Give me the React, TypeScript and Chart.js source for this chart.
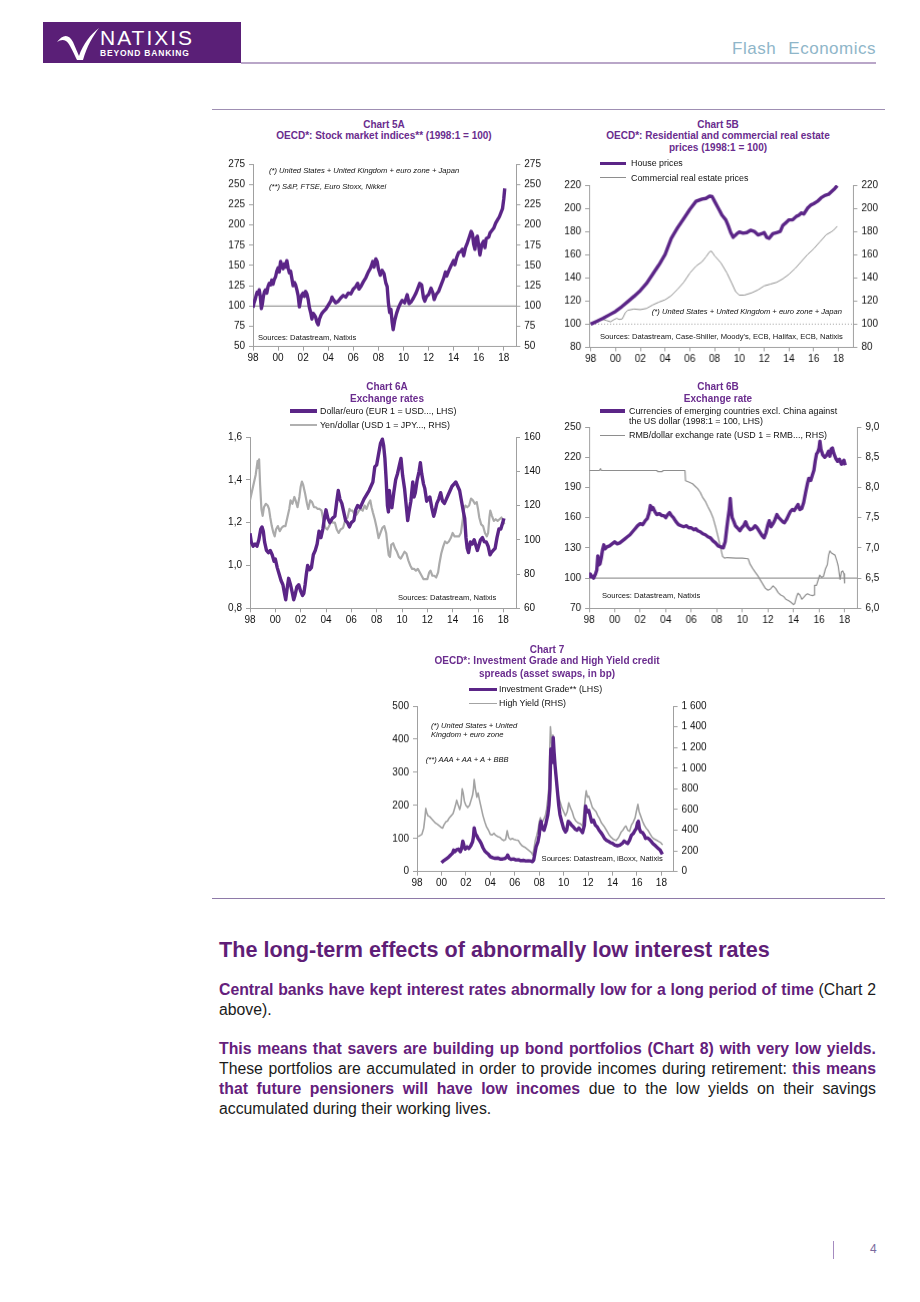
import React, { useEffect, useRef } from "react";
import { Chart, registerables } from "chart.js";
Chart.register(...registerables);

type Pt = [number, number];

const FONT = "'Liberation Sans', Arial, Helvetica, sans-serif";
const PURPLE = "#5b2587";
const TITLE = "#6a2c8e";
const AXIS = "#a0a0a0";
const TEXT_PURPLE = "#64207c";

// ---------- DATA ----------
const xTickYears = [1998, 2000, 2002, 2004, 2006, 2008, 2010, 2012, 2014, 2016, 2018];

// Chart 5A: OECD stock market indices (1998:1 = 100)
const stockIndex: Pt[] = [[1998.0,98],[1998.08,104],[1998.17,108],[1998.25,113],[1998.33,117],[1998.42,115],[1998.5,120],[1998.58,112],[1998.67,97],[1998.75,103],[1998.83,112],[1998.92,118],[1999.0,120],[1999.1,116],[1999.2,124],[1999.3,128],[1999.4,126],[1999.5,132],[1999.6,127],[1999.7,133],[1999.8,136],[1999.9,143],[2000.0,147],[2000.1,142],[2000.2,155],[2000.3,150],[2000.4,146],[2000.5,152],[2000.6,148],[2000.7,156],[2000.8,147],[2000.9,141],[2001.0,143],[2001.1,134],[2001.2,125],[2001.3,129],[2001.4,126],[2001.5,120],[2001.6,113],[2001.7,99],[2001.8,108],[2001.9,114],[2002.0,116],[2002.1,112],[2002.2,118],[2002.3,115],[2002.4,108],[2002.5,98],[2002.6,92],[2002.7,84],[2002.8,91],[2002.9,89],[2003.0,86],[2003.1,80],[2003.2,77],[2003.3,84],[2003.4,88],[2003.5,91],[2003.6,93],[2003.8,96],[2004.0,101],[2004.2,106],[2004.3,111],[2004.4,108],[2004.6,104],[2004.8,106],[2005.0,110],[2005.2,113],[2005.4,111],[2005.6,116],[2005.8,115],[2006.0,121],[2006.2,124],[2006.35,128],[2006.45,121],[2006.6,124],[2006.8,130],[2007.0,135],[2007.2,142],[2007.35,146],[2007.45,150],[2007.55,155],[2007.65,148],[2007.8,158],[2007.9,155],[2008.0,146],[2008.15,138],[2008.3,144],[2008.45,140],[2008.6,128],[2008.7,124],[2008.8,104],[2008.9,92],[2009.0,96],[2009.1,80],[2009.18,71],[2009.3,82],[2009.45,91],[2009.6,98],[2009.75,103],[2009.9,107],[2010.1,104],[2010.3,114],[2010.45,103],[2010.6,105],[2010.8,110],[2011.0,116],[2011.15,122],[2011.3,128],[2011.45,126],[2011.6,110],[2011.7,106],[2011.85,112],[2012.0,114],[2012.2,122],[2012.35,116],[2012.45,108],[2012.6,114],[2012.8,118],[2013.0,126],[2013.2,134],[2013.35,142],[2013.45,137],[2013.6,143],[2013.8,150],[2014.0,156],[2014.1,151],[2014.25,160],[2014.4,166],[2014.55,167],[2014.7,170],[2014.8,162],[2014.95,172],[2015.1,178],[2015.25,185],[2015.4,192],[2015.5,189],[2015.6,176],[2015.7,170],[2015.8,184],[2015.9,186],[2016.0,174],[2016.1,163],[2016.25,176],[2016.4,180],[2016.5,172],[2016.6,183],[2016.8,185],[2016.9,190],[2017.0,192],[2017.2,196],[2017.35,202],[2017.5,206],[2017.65,210],[2017.8,216],[2017.9,220],[2018.0,232],[2018.08,245]];
const refLine5A: Pt[] = [[1998, 100], [2019, 100]];
const ticks5A = [50, 75, 100, 125, 150, 175, 200, 225, 250, 275];

// Chart 5B: real estate prices (1998:1 = 100)
const housePrices: Pt[] = [[1998.0,100],[1998.5,102.5],[1999.0,105],[1999.5,108],[2000.0,111],[2000.5,115],[2001.0,119.5],[2001.5,124],[2002.0,129],[2002.5,135],[2003.0,143],[2003.5,151],[2004.0,160],[2004.5,174],[2005.0,183],[2005.5,191],[2006.0,199],[2006.5,206],[2007.0,208],[2007.3,208.5],[2007.6,210.5],[2007.8,210],[2008.0,206],[2008.3,200],[2008.6,194],[2008.9,190],[2009.1,185],[2009.3,179],[2009.5,175],[2009.8,178],[2010.0,179.5],[2010.3,178.5],[2010.6,179],[2010.9,181],[2011.2,180],[2011.5,177],[2011.8,178],[2012.0,179],[2012.2,175],[2012.4,174],[2012.7,178],[2013.0,179],[2013.3,180],[2013.5,185],[2013.8,188],[2014.0,190],[2014.3,190],[2014.6,193],[2014.8,194],[2015.0,196],[2015.2,195],[2015.5,200],[2015.8,203],[2016.0,204],[2016.3,206],[2016.6,209],[2016.9,211],[2017.2,212],[2017.5,215],[2017.7,217],[2017.9,219.5]];
const commercialPrices: Pt[] = [[1998.0,100],[1998.5,103],[1999.0,104],[1999.3,103],[1999.6,102],[1999.9,104],[2000.1,105],[2000.3,104],[2000.55,104.5],[2000.8,110],[2001.0,112],[2001.5,113],[2002.0,112.5],[2002.5,113.5],[2003.0,116.5],[2003.5,119],[2004.0,121],[2004.5,124.5],[2005.0,130],[2005.5,136],[2006.0,144],[2006.5,150],[2007.0,154],[2007.3,158],[2007.6,162.5],[2007.75,163],[2008.0,159],[2008.5,153],[2009.0,144],[2009.4,135],[2009.7,128],[2010.0,125],[2010.4,125],[2011.0,127],[2011.5,129.5],[2012.0,133],[2012.5,134.5],[2013.0,136],[2013.5,139],[2014.0,143],[2014.5,148],[2015.0,154],[2015.5,160],[2016.0,165],[2016.5,171],[2017.0,177],[2017.4,179.5],[2017.6,181],[2017.9,184.5]];
const refLine5B: Pt[] = [[1997.87, 100], [2019.2, 100]];
const ticks5B = [80, 100, 120, 140, 160, 180, 200, 220];

// Chart 6A: exchange rates
const dollarEuro: Pt[] = [[1998.0,1.15],[1998.1,1.11],[1998.25,1.09],[1998.4,1.1],[1998.55,1.09],[1998.7,1.12],[1998.85,1.17],[1998.95,1.18],[1999.05,1.16],[1999.15,1.11],[1999.3,1.07],[1999.45,1.06],[1999.6,1.07],[1999.75,1.05],[1999.9,1.02],[2000.0,1.03],[2000.15,0.99],[2000.3,0.96],[2000.45,0.93],[2000.6,0.91],[2000.72,0.87],[2000.82,0.84],[2000.95,0.9],[2001.05,0.94],[2001.2,0.91],[2001.35,0.87],[2001.45,0.84],[2001.55,0.86],[2001.7,0.9],[2001.85,0.91],[2002.0,0.88],[2002.15,0.86],[2002.25,0.87],[2002.35,0.91],[2002.45,0.96],[2002.55,1.0],[2002.7,0.98],[2002.85,0.99],[2003.0,1.05],[2003.15,1.07],[2003.3,1.1],[2003.45,1.16],[2003.6,1.13],[2003.75,1.17],[2003.9,1.23],[2004.0,1.26],[2004.15,1.22],[2004.3,1.2],[2004.5,1.22],[2004.7,1.23],[2004.85,1.3],[2004.97,1.35],[2005.1,1.31],[2005.25,1.29],[2005.4,1.25],[2005.55,1.21],[2005.7,1.2],[2005.85,1.18],[2006.0,1.2],[2006.2,1.21],[2006.35,1.26],[2006.5,1.28],[2006.7,1.27],[2006.85,1.29],[2007.0,1.31],[2007.2,1.33],[2007.4,1.35],[2007.55,1.37],[2007.7,1.39],[2007.85,1.46],[2008.0,1.47],[2008.15,1.52],[2008.3,1.57],[2008.45,1.59],[2008.55,1.56],[2008.65,1.5],[2008.75,1.4],[2008.85,1.28],[2008.93,1.25],[2009.0,1.35],[2009.1,1.3],[2009.2,1.27],[2009.35,1.34],[2009.5,1.4],[2009.65,1.43],[2009.8,1.47],[2009.92,1.5],[2010.05,1.42],[2010.2,1.36],[2010.35,1.27],[2010.45,1.21],[2010.55,1.25],[2010.7,1.3],[2010.85,1.39],[2010.95,1.32],[2011.05,1.34],[2011.2,1.4],[2011.35,1.44],[2011.45,1.48],[2011.55,1.43],[2011.7,1.38],[2011.8,1.36],[2011.95,1.3],[2012.05,1.31],[2012.2,1.32],[2012.35,1.27],[2012.5,1.23],[2012.6,1.25],[2012.75,1.29],[2012.9,1.31],[2013.05,1.34],[2013.2,1.3],[2013.35,1.29],[2013.5,1.31],[2013.65,1.33],[2013.8,1.35],[2013.95,1.37],[2014.1,1.38],[2014.25,1.39],[2014.4,1.37],[2014.55,1.35],[2014.7,1.3],[2014.85,1.25],[2014.95,1.22],[2015.05,1.13],[2015.15,1.08],[2015.25,1.06],[2015.4,1.11],[2015.55,1.1],[2015.7,1.12],[2015.85,1.09],[2015.95,1.07],[2016.05,1.09],[2016.2,1.12],[2016.35,1.13],[2016.5,1.11],[2016.65,1.11],[2016.8,1.09],[2016.95,1.05],[2017.05,1.06],[2017.2,1.07],[2017.35,1.08],[2017.5,1.13],[2017.65,1.17],[2017.8,1.17],[2017.95,1.2],[2018.05,1.22]];
const yenDollar: Pt[] = [[1998.0,123],[1998.15,128],[1998.3,133],[1998.45,138],[1998.6,146],[1998.65,142],[1998.72,147],[1998.8,132],[1998.9,118],[1999.0,114],[1999.1,119],[1999.25,121],[1999.4,120],[1999.5,118],[1999.6,113],[1999.72,108],[1999.85,104],[1999.95,102],[2000.05,106],[2000.2,108],[2000.35,105],[2000.5,107],[2000.65,108],[2000.8,108],[2000.95,113],[2001.1,118],[2001.2,123],[2001.35,121],[2001.5,125],[2001.6,123],[2001.75,119],[2001.9,125],[2002.0,131],[2002.1,134],[2002.2,132],[2002.35,127],[2002.5,121],[2002.6,118],[2002.75,123],[2002.9,122],[2003.05,119],[2003.2,119],[2003.35,118],[2003.5,118],[2003.65,117],[2003.8,111],[2003.95,107],[2004.1,106],[2004.25,108],[2004.4,111],[2004.55,110],[2004.7,110],[2004.85,106],[2005.0,104],[2005.15,106],[2005.35,107],[2005.5,111],[2005.7,113],[2005.85,118],[2005.95,117],[2006.1,117],[2006.3,114],[2006.45,115],[2006.6,117],[2006.75,118],[2006.9,117],[2007.05,120],[2007.2,118],[2007.35,121],[2007.5,123],[2007.6,119],[2007.7,116],[2007.85,112],[2008.0,107],[2008.15,101],[2008.3,104],[2008.45,107],[2008.6,108],[2008.75,104],[2008.85,97],[2008.95,91],[2009.05,90],[2009.15,97],[2009.3,98],[2009.45,95],[2009.6,93],[2009.75,90],[2009.9,89],[2010.05,91],[2010.2,93],[2010.35,92],[2010.5,88],[2010.65,85],[2010.8,83],[2010.95,83],[2011.1,82],[2011.25,83],[2011.4,81],[2011.55,79],[2011.7,77],[2011.85,77],[2012.0,77],[2012.15,81],[2012.25,82],[2012.4,79],[2012.55,79],[2012.7,78],[2012.85,81],[2012.95,86],[2013.1,92],[2013.25,96],[2013.4,99],[2013.55,98],[2013.7,99],[2013.85,101],[2014.0,104],[2014.15,102],[2014.3,102],[2014.5,102],[2014.65,104],[2014.8,112],[2014.9,118],[2015.0,120],[2015.15,119],[2015.3,120],[2015.45,124],[2015.6,123],[2015.75,121],[2015.9,122],[2016.0,118],[2016.1,113],[2016.25,109],[2016.4,108],[2016.55,104],[2016.7,102],[2016.8,104],[2016.9,113],[2016.97,117],[2017.1,114],[2017.25,111],[2017.4,112],[2017.55,111],[2017.7,112],[2017.85,113],[2018.0,111],[2018.08,109]];
const ticks6AL = [0.8, 1.0, 1.2, 1.4, 1.6];
const ticks6AR = [60, 80, 100, 120, 140, 160];

// Chart 6B: emerging currencies and RMB
const emCurrencies: Pt[] = [[1998.0,100],[1998.1,104],[1998.2,102],[1998.35,100],[1998.5,104],[1998.6,108],[1998.68,122],[1998.75,113],[1998.85,114],[1998.95,120],[1999.05,128],[1999.15,133],[1999.25,129],[1999.4,131],[1999.6,132],[1999.8,134],[2000.0,136],[2000.2,134],[2000.4,135],[2000.6,137],[2000.8,139],[2001.0,141],[2001.2,143],[2001.4,146],[2001.6,149],[2001.8,152],[2002.0,154],[2002.2,153],[2002.4,157],[2002.55,159],[2002.7,165],[2002.8,172],[2002.9,168],[2003.0,170],[2003.15,166],[2003.3,163],[2003.5,164],[2003.7,162],[2003.85,162],[2004.0,160],[2004.15,163],[2004.3,165],[2004.45,162],[2004.6,160],[2004.8,156],[2005.0,153],[2005.2,152],[2005.4,151],[2005.6,152],[2005.8,150],[2006.0,150],[2006.2,148],[2006.35,149],[2006.5,147],[2006.7,146],[2006.9,144],[2007.1,143],[2007.3,141],[2007.5,140],[2007.7,137],[2007.9,135],[2008.1,132],[2008.3,131],[2008.5,130],[2008.65,136],[2008.78,150],[2008.88,160],[2008.97,168],[2009.05,179],[2009.12,168],[2009.2,160],[2009.3,157],[2009.45,152],[2009.6,150],[2009.8,147],[2009.95,150],[2010.1,152],[2010.25,156],[2010.4,151],[2010.6,148],[2010.8,149],[2011.0,152],[2011.15,150],[2011.35,146],[2011.55,142],[2011.7,140],[2011.85,145],[2012.0,153],[2012.1,157],[2012.25,151],[2012.4,154],[2012.55,158],[2012.7,163],[2012.85,160],[2013.0,158],[2013.15,156],[2013.3,155],[2013.45,158],[2013.6,162],[2013.75,166],[2013.9,168],[2014.05,167],[2014.2,170],[2014.35,173],[2014.5,168],[2014.65,169],[2014.8,175],[2014.95,185],[2015.1,194],[2015.2,199],[2015.35,197],[2015.5,203],[2015.6,207],[2015.7,216],[2015.8,223],[2015.9,225],[2016.0,229],[2016.07,236],[2016.15,228],[2016.3,222],[2016.45,220],[2016.6,222],[2016.75,226],[2016.85,221],[2016.95,228],[2017.05,229],[2017.15,224],[2017.3,219],[2017.45,216],[2017.6,218],[2017.75,213],[2017.85,215],[2017.95,217],[2018.05,212]];
const rmbDollar: Pt[] = [[1998.0,8.28],[1998.8,8.28],[1998.9,8.31],[1998.95,8.28],[2003.3,8.28],[2003.4,8.26],[2003.7,8.26],[2003.8,8.28],[2005.5,8.28],[2005.55,8.11],[2005.8,8.09],[2006.1,8.06],[2006.3,8.02],[2006.5,7.98],[2006.7,7.92],[2006.9,7.83],[2007.1,7.77],[2007.3,7.68],[2007.5,7.6],[2007.7,7.5],[2007.9,7.35],[2008.1,7.18],[2008.3,7.0],[2008.45,6.86],[2008.6,6.83],[2008.8,6.84],[2009.5,6.83],[2010.0,6.83],[2010.45,6.82],[2010.6,6.73],[2010.8,6.66],[2011.0,6.6],[2011.2,6.54],[2011.4,6.47],[2011.6,6.4],[2011.8,6.33],[2012.0,6.3],[2012.2,6.32],[2012.4,6.37],[2012.6,6.33],[2012.8,6.26],[2013.0,6.22],[2013.2,6.2],[2013.4,6.15],[2013.6,6.13],[2013.8,6.1],[2014.0,6.06],[2014.1,6.08],[2014.25,6.2],[2014.35,6.25],[2014.5,6.22],[2014.65,6.15],[2014.8,6.18],[2014.95,6.22],[2015.1,6.24],[2015.3,6.22],[2015.5,6.21],[2015.6,6.22],[2015.65,6.38],[2015.8,6.38],[2015.95,6.48],[2016.05,6.55],[2016.2,6.51],[2016.35,6.53],[2016.5,6.65],[2016.65,6.72],[2016.75,6.88],[2016.85,6.95],[2016.95,6.92],[2017.1,6.9],[2017.25,6.88],[2017.4,6.78],[2017.5,6.7],[2017.6,6.55],[2017.65,6.48],[2017.75,6.6],[2017.85,6.62],[2017.95,6.57],[2018.0,6.42]];
const refLine6B: Pt[] = [[1998, 100], [2019, 100]];
const ticks6BL = [70, 100, 130, 160, 190, 220, 250];
const ticks6BR = [6.0, 6.5, 7.0, 7.5, 8.0, 8.5, 9.0];

// Chart 7: credit spreads (bp)
const investmentGrade: Pt[] = [[2000.0,27],[2000.15,32],[2000.3,36],[2000.45,40],[2000.6,44],[2000.75,50],[2000.9,55],[2001.0,65],[2001.1,60],[2001.25,66],[2001.4,68],[2001.55,60],[2001.65,70],[2001.75,92],[2001.85,78],[2001.95,68],[2002.1,75],[2002.25,70],[2002.4,78],[2002.55,90],[2002.62,105],[2002.68,132],[2002.78,115],[2002.9,108],[2003.0,100],[2003.1,95],[2003.25,85],[2003.4,72],[2003.55,62],[2003.7,57],[2003.85,52],[2004.0,45],[2004.2,42],[2004.4,40],[2004.6,41],[2004.8,38],[2005.0,38],[2005.2,40],[2005.35,44],[2005.42,50],[2005.55,40],[2005.7,37],[2005.9,38],[2006.1,35],[2006.3,36],[2006.5,33],[2006.7,34],[2006.9,32],[2007.1,33],[2007.3,32],[2007.45,30],[2007.55,35],[2007.65,55],[2007.75,75],[2007.9,90],[2008.0,110],[2008.08,140],[2008.15,152],[2008.25,130],[2008.4,125],[2008.55,145],[2008.7,170],[2008.8,200],[2008.88,250],[2008.95,370],[2009.02,345],[2009.08,330],[2009.15,405],[2009.22,360],[2009.3,320],[2009.4,280],[2009.5,240],[2009.6,200],[2009.7,172],[2009.85,150],[2010.0,130],[2010.15,120],[2010.25,125],[2010.38,152],[2010.5,148],[2010.65,140],[2010.8,135],[2010.95,128],[2011.1,125],[2011.25,132],[2011.4,125],[2011.55,118],[2011.7,140],[2011.8,198],[2011.9,180],[2012.05,185],[2012.15,172],[2012.3,150],[2012.45,155],[2012.6,140],[2012.75,135],[2012.9,125],[2013.05,118],[2013.2,110],[2013.35,100],[2013.5,95],[2013.65,92],[2013.8,88],[2014.0,85],[2014.2,80],[2014.4,78],[2014.6,80],[2014.8,85],[2014.95,92],[2015.1,88],[2015.25,85],[2015.4,95],[2015.55,110],[2015.7,115],[2015.85,125],[2015.95,130],[2016.05,148],[2016.12,152],[2016.2,130],[2016.3,120],[2016.45,118],[2016.6,110],[2016.7,100],[2016.85,102],[2017.0,98],[2017.15,92],[2017.3,85],[2017.45,80],[2017.6,75],[2017.75,70],[2017.9,65],[2018.0,58],[2018.08,52]];
const highYield: Pt[] = [[1998.0,340],[1998.2,345],[1998.4,360],[1998.55,420],[1998.65,520],[1998.72,610],[1998.8,570],[1998.9,540],[1999.05,530],[1999.2,510],[1999.35,490],[1999.5,470],[1999.65,460],[1999.8,445],[1999.95,430],[2000.1,420],[2000.2,450],[2000.35,480],[2000.5,490],[2000.65,520],[2000.8,540],[2000.95,560],[2001.05,600],[2001.15,640],[2001.25,690],[2001.35,650],[2001.5,600],[2001.6,650],[2001.7,800],[2001.78,760],[2001.88,680],[2002.0,640],[2002.15,620],[2002.3,640],[2002.45,700],[2002.55,740],[2002.62,800],[2002.68,890],[2002.78,800],[2002.9,720],[2003.0,760],[2003.1,700],[2003.25,620],[2003.4,540],[2003.55,480],[2003.7,430],[2003.85,400],[2004.0,360],[2004.15,355],[2004.3,370],[2004.45,350],[2004.6,340],[2004.8,330],[2004.95,310],[2005.1,300],[2005.25,310],[2005.38,395],[2005.5,330],[2005.65,310],[2005.8,320],[2005.95,310],[2006.1,305],[2006.3,300],[2006.45,270],[2006.6,250],[2006.75,240],[2006.9,230],[2007.05,215],[2007.2,200],[2007.35,185],[2007.48,160],[2007.58,230],[2007.68,300],[2007.8,350],[2007.9,400],[2008.0,480],[2008.1,520],[2008.2,470],[2008.35,500],[2008.5,540],[2008.6,600],[2008.7,700],[2008.78,800],[2008.85,1100],[2008.92,1400],[2008.98,1300],[2009.05,1200],[2009.12,1320],[2009.2,1150],[2009.3,1000],[2009.42,850],[2009.55,740],[2009.7,680],[2009.85,620],[2010.0,580],[2010.15,540],[2010.3,580],[2010.42,665],[2010.55,620],[2010.7,580],[2010.85,520],[2011.0,490],[2011.2,470],[2011.4,460],[2011.55,440],[2011.68,600],[2011.78,720],[2011.85,780],[2011.95,720],[2012.05,730],[2012.2,680],[2012.35,620],[2012.5,600],[2012.65,580],[2012.8,540],[2012.95,510],[2013.1,470],[2013.3,440],[2013.5,400],[2013.7,360],[2013.9,330],[2014.1,310],[2014.3,300],[2014.5,330],[2014.7,380],[2014.85,400],[2015.0,430],[2015.1,440],[2015.25,400],[2015.4,390],[2015.55,450],[2015.7,480],[2015.85,520],[2015.95,580],[2016.08,650],[2016.18,580],[2016.3,540],[2016.45,490],[2016.6,450],[2016.75,420],[2016.9,400],[2017.05,370],[2017.2,340],[2017.35,320],[2017.5,310],[2017.65,300],[2017.8,290],[2017.95,280],[2018.05,265],[2018.12,260]];
const ticks7L = [0, 100, 200, 300, 400, 500];
const ticks7R = [0, 200, 400, 600, 800, 1000, 1200, 1400, 1600];

// ---------- CHART COMPONENT ----------
type Series = { data: Pt[]; color: string; width: number; axis: "yL" | "yR"; dash?: number[] };
type AxisSpec = { ticks: number[]; fmt: (v: number) => string };
type Spec = {
  left: number; top: number; right: number; bottom: number;
  xMin: number; xMax: number; yL: AxisSpec; yR: AxisSpec; series: Series[];
};

const PAD_T = 8;
const AX_W = 40;
const X_H = 24;

const comma1 = (v: number) => v.toFixed(1).replace(".", ",");
const plain = (v: number) => String(v);
const spaced = (v: number) =>
  v >= 1000 ? `${Math.floor(v / 1000)} ${String(v % 1000).padStart(3, "0")}` : String(v);

function yAxis(a: AxisSpec, position: "left" | "right") {
  return {
    type: "linear" as const,
    position,
    min: a.ticks[0],
    max: a.ticks[a.ticks.length - 1],
    afterBuildTicks: (s: any) => { s.ticks = a.ticks.map((v) => ({ value: v })); },
    afterFit: (s: any) => { s.width = AX_W; },
    ticks: { font: { family: FONT, size: 10 }, color: "#111", padding: 4, callback: (v: any) => a.fmt(Number(v)) },
    grid: { display: true, drawOnChartArea: false, drawTicks: true, tickLength: 4, color: AXIS },
    border: { display: true, color: AXIS, width: 1 },
  };
}

function PlotChart({ spec }: { spec: Spec }) {
  const ref = useRef<HTMLCanvasElement>(null);
  useEffect(() => {
    if (!ref.current) return;
    const chart = new Chart(ref.current, {
      type: "line",
      data: {
        datasets: spec.series.map((s) => ({
          data: s.data.map(([x, y]) => ({ x, y })),
          borderColor: s.color,
          borderWidth: s.width,
          borderDash: s.dash || [],
          pointRadius: 0,
          yAxisID: s.axis,
          tension: 0,
          fill: false,
          borderJoinStyle: "round" as const,
        })),
      },
      options: {
        animation: false,
        responsive: true,
        maintainAspectRatio: false,
        events: [],
        layout: { padding: { top: PAD_T, left: 0, right: 0, bottom: 0 } },
        plugins: { legend: { display: false }, tooltip: { enabled: false }, title: { display: false } },
        scales: {
          x: {
            type: "linear",
            min: spec.xMin,
            max: spec.xMax,
            afterBuildTicks: (s: any) => { s.ticks = xTickYears.map((v) => ({ value: v })); },
            afterFit: (s: any) => { s.height = X_H; },
            ticks: {
              font: { family: FONT, size: 10 }, color: "#111", padding: 2, maxRotation: 0, autoSkip: false,
              callback: (v: any) => String(Number(v) % 100).padStart(2, "0"),
            },
            grid: { display: true, drawOnChartArea: false, drawTicks: true, tickLength: 4, color: AXIS },
            border: { display: true, color: AXIS, width: 1 },
          },
          yL: yAxis(spec.yL, "left"),
          yR: yAxis(spec.yR, "right"),
        } as any,
      },
    });
    return () => chart.destroy();
  }, []);
  const w = spec.right - spec.left + 2 * AX_W;
  const h = spec.bottom - spec.top + PAD_T + X_H;
  return (
    <div style={{ position: "absolute", left: spec.left - AX_W, top: spec.top - PAD_T, width: w, height: h }}>
      <canvas ref={ref} />
    </div>
  );
}

// ---------- TEXT HELPERS ----------
function T(props: { x: number; y: number; children: any; size?: number; bold?: boolean; italic?: boolean; color?: string; align?: "left" | "center" | "right" }) {
  const { x, y, children, size = 9, bold = false, italic = false, color = "#111", align = "left" } = props;
  const lh = Math.round(size * 1.3);
  return (
    <div
      style={{
        position: "absolute",
        left: align === "right" ? undefined : x,
        right: align === "right" ? 920 - x : undefined,
        top: y - lh / 2,
        lineHeight: lh + "px",
        fontSize: size,
        fontFamily: FONT,
        fontWeight: bold ? "bold" : "normal",
        fontStyle: italic ? "italic" : "normal",
        color,
        whiteSpace: "nowrap",
        transform: align === "center" ? "translateX(-50%)" : undefined,
      }}
    >
      {children}
    </div>
  );
}

function Sample({ x1, x2, y, w, color }: { x1: number; x2: number; y: number; w: number; color: string }) {
  return <div style={{ position: "absolute", left: x1, top: y - w / 2, width: x2 - x1, height: w, background: color }} />;
}

function HLine({ x1, x2, y, h, color }: { x1: number; x2: number; y: number; h: number; color: string }) {
  return <div style={{ position: "absolute", left: x1, top: y, width: x2 - x1, height: h, background: color }} />;
}

// ---------- SPECS ----------
const spec5A: Spec = {
  left: 252.7, top: 162.3, right: 516, bottom: 346, xMin: 1998, xMax: 2019,
  yL: { ticks: ticks5A, fmt: plain }, yR: { ticks: ticks5A, fmt: plain },
  series: [
    { data: stockIndex, color: PURPLE, width: 3.4, axis: "yL" },
    { data: refLine5A, color: "#9a9a9a", width: 1.2, axis: "yL" },
  ],
};
const spec5B: Spec = {
  left: 589.3, top: 183.3, right: 852.7, bottom: 346.7, xMin: 1997.87, xMax: 2019.2,
  yL: { ticks: ticks5B, fmt: plain }, yR: { ticks: ticks5B, fmt: plain },
  series: [
    { data: housePrices, color: PURPLE, width: 3.4, axis: "yL" },
    { data: commercialPrices, color: "#8e8e8e", width: 1, axis: "yL" },
    { data: refLine5B, color: "#9a9a9a", width: 1, axis: "yL", dash: [1, 2] },
  ],
};
const spec6A: Spec = {
  left: 250, top: 435, right: 516, bottom: 608.3, xMin: 1998, xMax: 2019,
  yL: { ticks: ticks6AL, fmt: comma1 }, yR: { ticks: ticks6AR, fmt: plain },
  series: [
    { data: dollarEuro, color: PURPLE, width: 3.4, axis: "yL" },
    { data: yenDollar, color: "#ababab", width: 2.2, axis: "yR" },
  ],
};
const spec6B: Spec = {
  left: 589.3, top: 425, right: 856.7, bottom: 608.3, xMin: 1998, xMax: 2019,
  yL: { ticks: ticks6BL, fmt: plain }, yR: { ticks: ticks6BR, fmt: comma1 },
  series: [
    { data: emCurrencies, color: PURPLE, width: 3.4, axis: "yL" },
    { data: rmbDollar, color: "#8e8e8e", width: 1.2, axis: "yR" },
    { data: refLine6B, color: "#9a9a9a", width: 1.2, axis: "yL" },
  ],
};
const spec7: Spec = {
  left: 416.7, top: 704, right: 673.3, bottom: 870.7, xMin: 1998, xMax: 2019,
  yL: { ticks: ticks7L, fmt: plain }, yR: { ticks: ticks7R, fmt: spaced },
  series: [
    { data: investmentGrade, color: PURPLE, width: 3.4, axis: "yL" },
    { data: highYield, color: "#a3a3a3", width: 1.6, axis: "yR" },
  ],
};

// ---------- PARAGRAPH ----------
const B = ({ children }: { children: any }) => <span style={{ fontWeight: "bold", color: TEXT_PURPLE }}>{children}</span>;

function Line({ y, justify, children }: { y: number; justify: boolean; children: any }) {
  return (
    <div
      style={{
        position: "absolute", left: 219, width: 657, top: y - 10, lineHeight: "20px",
        fontSize: 15.8, fontFamily: FONT, color: "#1a1a1a",
        textAlign: justify ? "justify" : "left",
        textAlignLast: justify ? "justify" : "left",
      } as any}
    >
      {children}
    </div>
  );
}

export default function App() {
  return (
    <div style={{ position: "absolute", left: 0, top: 0, width: 920, height: 1302, background: "#fff", overflow: "hidden", fontFamily: FONT }}>
      {/* Header */}
      <div style={{ position: "absolute", left: 43, top: 22, width: 198, height: 41, background: "#5a1f77" }}>
        <svg width="50" height="41" style={{ position: "absolute", left: 10, top: 0 }}>
          <path d="M4 20 C10 12 16 12 20 20 L26 34 C30 22 38 12 46 6 C40 14 34 24 30 38 L24 38 C20 30 17 22 13 19 C10 17 7 18 4 20 Z" fill="#ffffff" />
        </svg>
        <div style={{ position: "absolute", left: 57, top: 5, fontSize: 21, lineHeight: "22px", color: "#fff", letterSpacing: 2, fontFamily: FONT }}>NATIXIS</div>
        <div style={{ position: "absolute", left: 57, top: 25, fontSize: 8.5, lineHeight: "12px", color: "#fff", fontWeight: "bold", letterSpacing: 0.8, fontFamily: FONT }}>BEYOND BANKING</div>
      </div>
      <div style={{ position: "absolute", right: 44, top: 38, fontSize: 17, lineHeight: "22px", color: "#8fb6c9", letterSpacing: 0.5, wordSpacing: 7, fontFamily: FONT, whiteSpace: "nowrap" }}>Flash Economics</div>
      <HLine x1={241} x2={876} y={62} h={2} color="#b9a6c8" />
      <HLine x1={212} x2={885} y={109} h={1} color="#9f8fb3" />

      {/* Chart 5A */}
      <T x={384} y={124} size={10} bold color={TITLE} align="center">Chart 5A</T>
      <T x={384} y={135.5} size={10} bold color={TITLE} align="center">OECD*: Stock market indices** (1998:1 = 100)</T>
      <PlotChart spec={spec5A} />
      <T x={269} y={171} size={7.6} italic>(*) United States + United Kingdom + euro zone + Japan</T>
      <T x={269} y={187} size={7.6} italic>(**) S&amp;P, FTSE, Euro Stoxx, Nikkei</T>
      <T x={258} y={338} size={7.6}>Sources: Datastream, Natixis</T>

      {/* Chart 5B */}
      <T x={718} y={124} size={10} bold color={TITLE} align="center">Chart 5B</T>
      <T x={718} y={135.5} size={10} bold color={TITLE} align="center">OECD*: Residential and commercial real estate</T>
      <T x={718} y={147} size={10} bold color={TITLE} align="center">prices (1998:1 = 100)</T>
      <Sample x1={600} x2={626} y={163.3} w={3.4} color={PURPLE} />
      <T x={631} y={163.3} size={8.9}>House prices</T>
      <Sample x1={600} x2={626} y={177.7} w={1} color="#8e8e8e" />
      <T x={631} y={177.7} size={8.9}>Commercial real estate prices</T>
      <PlotChart spec={spec5B} />
      <T x={842} y={312} size={7.6} italic align="right">(*) United States + United Kingdom + euro zone + Japan</T>
      <T x={600} y={337} size={7.6}>Sources: Datastream, Case-Shiller, Moody's, ECB, Halifax, ECB, Natixis</T>

      {/* Chart 6A */}
      <T x={387} y={386.7} size={10} bold color={TITLE} align="center">Chart 6A</T>
      <T x={387} y={398.3} size={10} bold color={TITLE} align="center">Exchange rates</T>
      <Sample x1={290} x2={317} y={411} w={3.4} color={PURPLE} />
      <T x={320} y={411} size={8.9}>Dollar/euro (EUR 1 = USD..., LHS)</T>
      <Sample x1={290} x2={317} y={425} w={2.2} color="#b0b0b0" />
      <T x={320} y={425} size={8.9}>Yen/dollar (USD 1 = JPY..., RHS)</T>
      <PlotChart spec={spec6A} />
      <T x={398} y={598} size={7.6}>Sources: Datastream, Natixis</T>

      {/* Chart 6B */}
      <T x={718} y={386.7} size={10} bold color={TITLE} align="center">Chart 6B</T>
      <T x={718} y={398.3} size={10} bold color={TITLE} align="center">Exchange rate</T>
      <PlotChart spec={spec6B} />
      <Sample x1={600} x2={625} y={411} w={3.4} color={PURPLE} />
      <T x={629} y={410.7} size={8.9}>Currencies of emerging countries excl. China against</T>
      <T x={629} y={421} size={8.9}>the US dollar (1998:1 = 100, LHS)</T>
      <Sample x1={600} x2={625} y={435} w={1} color="#8e8e8e" />
      <T x={629} y={434.5} size={8.9}>RMB/dollar exchange rate (USD 1 = RMB..., RHS)</T>
      <T x={602} y={595.7} size={7.6}>Sources: Datastream, Natixis</T>

      {/* Chart 7 */}
      <T x={547} y={649} size={10} bold color={TITLE} align="center">Chart 7</T>
      <T x={547} y={660.7} size={10} bold color={TITLE} align="center">OECD*: Investment Grade and High Yield credit</T>
      <T x={547} y={673.3} size={10} bold color={TITLE} align="center">spreads (asset swaps, in bp)</T>
      <Sample x1={469} x2={497} y={689.3} w={3.4} color={PURPLE} />
      <T x={499} y={689.3} size={8.9}>Investment Grade** (LHS)</T>
      <Sample x1={469} x2={497} y={703.3} w={1.6} color="#a3a3a3" />
      <T x={499} y={703.3} size={8.9}>High Yield (RHS)</T>
      <PlotChart spec={spec7} />
      <T x={431} y={726} size={7.6} italic>(*) United States + United</T>
      <T x={431} y={735} size={7.6} italic>Kingdom + euro zone</T>
      <T x={425.7} y={760} size={7.6} italic>(**) AAA + AA + A + BBB</T>
      <T x={662.7} y={859.3} size={7.6} align="right">Sources: Datastream, iBoxx, Natixis</T>

      <HLine x1={212} x2={885} y={898} h={1} color="#8e7aa8" />

      {/* Text */}
      <div style={{ position: "absolute", left: 219, top: 937, lineHeight: "26px", fontSize: 21.6, fontWeight: "bold", color: "#5f1e77", fontFamily: FONT, whiteSpace: "nowrap" }}>
        The long-term effects of abnormally low interest rates
      </div>
      <Line y={990} justify>
        <B>Central banks have kept interest rates abnormally low for a long period of time</B> (Chart 2
      </Line>
      <Line y={1010} justify={false}>above).</Line>
      <Line y={1049} justify>
        <B>This means that savers are building up bond portfolios (Chart 8) with very low yields.</B>
      </Line>
      <Line y={1069} justify>
        These portfolios are accumulated in order to provide incomes during retirement: <B>this means</B>
      </Line>
      <Line y={1089} justify>
        <B>that future pensioners will have low incomes</B> due to the low yields on their savings
      </Line>
      <Line y={1109} justify={false}>accumulated during their working lives.</Line>

      {/* Footer */}
      <div style={{ position: "absolute", left: 833, top: 1241, width: 1, height: 18, background: "#a58bc0" }} />
      <T x={870} y={1249} size={12} color="#7a6a9e">4</T>
    </div>
  );
}
